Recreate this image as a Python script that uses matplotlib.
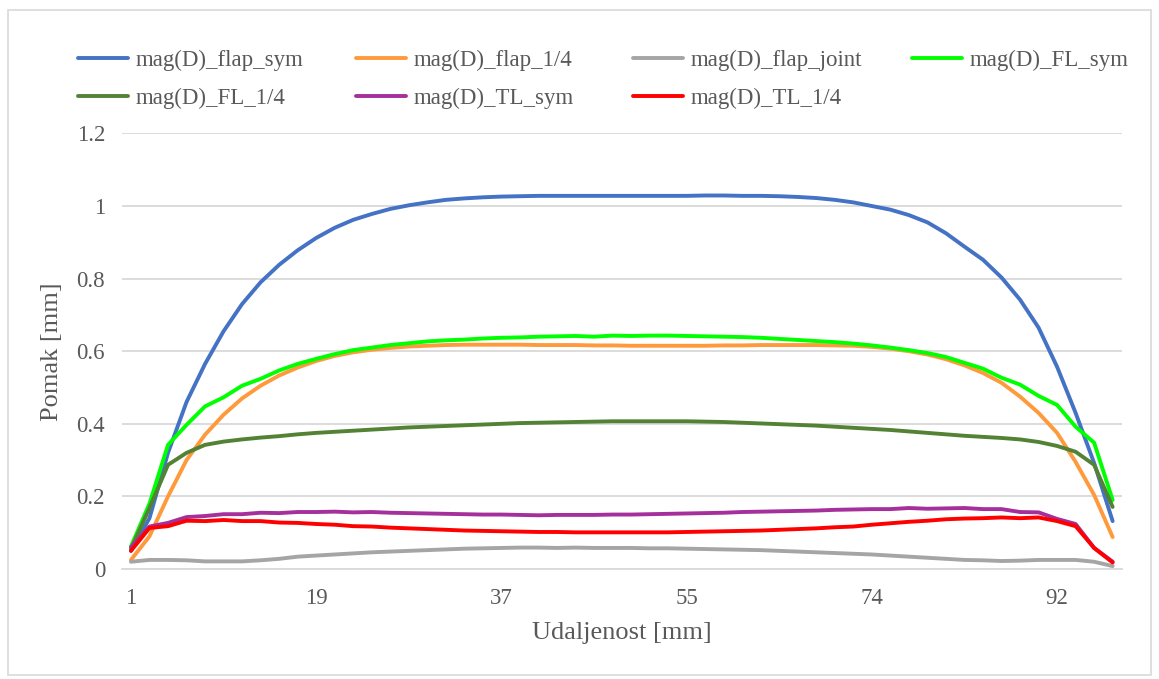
import matplotlib
matplotlib.use("Agg")
import matplotlib.pyplot as plt
from matplotlib.patches import Rectangle

# x os: 54 tocke, oznaka svake 10. tocke
x_oznake = ["1", "19", "37", "55", "74", "92"]
x_oznake_idx = [0, 10, 20, 30, 40, 50]

flap_sym = [0.05, 0.14, 0.32, 0.46, 0.565, 0.655, 0.73, 0.79, 0.838, 0.878,
            0.912, 0.94, 0.962, 0.978, 0.992, 1.002, 1.01, 1.017, 1.021, 1.024,
            1.026, 1.027, 1.028, 1.028, 1.028, 1.028, 1.028, 1.028, 1.028, 1.028,
            1.028, 1.029, 1.029, 1.028, 1.028, 1.027, 1.025, 1.022, 1.017, 1.01,
            1.0, 0.99, 0.975, 0.955, 0.925, 0.888, 0.852, 0.803, 0.742, 0.665,
            0.557, 0.43, 0.292, 0.132]

flap_14 = [0.025, 0.09, 0.2, 0.3, 0.37, 0.425, 0.47, 0.505, 0.533, 0.555,
           0.573, 0.587, 0.597, 0.604, 0.609, 0.613, 0.615, 0.617, 0.618, 0.618,
           0.618, 0.618, 0.617, 0.617, 0.617, 0.616, 0.616, 0.615, 0.615, 0.615,
           0.615, 0.615, 0.616, 0.616, 0.617, 0.617, 0.617, 0.617, 0.616, 0.615,
           0.612, 0.607, 0.6, 0.591, 0.578, 0.561, 0.54, 0.513, 0.475, 0.43,
           0.375, 0.295, 0.204, 0.088]

flap_joint = [0.02, 0.025, 0.025, 0.024, 0.021, 0.021, 0.021, 0.024, 0.028, 0.034,
              0.037, 0.04, 0.043, 0.046, 0.048, 0.05, 0.052, 0.054, 0.056, 0.057,
              0.058, 0.059, 0.059, 0.058, 0.059, 0.058, 0.058, 0.058, 0.057, 0.057,
              0.056, 0.055, 0.054, 0.053, 0.052, 0.05, 0.048, 0.046, 0.044, 0.042,
              0.04, 0.037, 0.034, 0.031, 0.028, 0.025, 0.024, 0.022, 0.023, 0.025,
              0.025, 0.025, 0.02, 0.008]

FL_sym = [0.062, 0.18, 0.342, 0.397, 0.448, 0.473, 0.505, 0.524, 0.547, 0.565,
          0.579, 0.592, 0.603, 0.61, 0.617, 0.622, 0.627, 0.63, 0.632, 0.635,
          0.637, 0.638, 0.64, 0.641, 0.642, 0.64, 0.643, 0.642, 0.643, 0.643,
          0.642, 0.641, 0.64, 0.639, 0.637, 0.634, 0.631, 0.628, 0.625, 0.621,
          0.616, 0.61, 0.603, 0.595, 0.584, 0.568, 0.552, 0.527, 0.508, 0.477,
          0.452, 0.392, 0.348, 0.19]

FL_14 = [0.055, 0.168, 0.287, 0.32, 0.342, 0.351, 0.357, 0.362, 0.366, 0.371,
         0.375, 0.378, 0.381, 0.384, 0.387, 0.39, 0.392, 0.394, 0.396, 0.398,
         0.4, 0.402, 0.403, 0.404, 0.405, 0.406, 0.407, 0.407, 0.407, 0.407,
         0.407, 0.406, 0.405, 0.403, 0.401, 0.399, 0.397, 0.395, 0.392, 0.389,
         0.386, 0.383, 0.379, 0.375, 0.371, 0.367, 0.364, 0.361, 0.357, 0.35,
         0.339, 0.323, 0.287, 0.171]

TL_sym = [0.06, 0.117, 0.127, 0.143, 0.146, 0.151, 0.151, 0.155, 0.154, 0.157,
          0.157, 0.158, 0.156, 0.157, 0.155, 0.154, 0.153, 0.152, 0.151, 0.15,
          0.15, 0.149, 0.148, 0.149, 0.149, 0.149, 0.15, 0.15, 0.151, 0.152,
          0.153, 0.154, 0.155, 0.157, 0.158, 0.159, 0.16, 0.161, 0.163, 0.164,
          0.165, 0.165, 0.168, 0.166, 0.167, 0.168, 0.165, 0.165, 0.157, 0.156,
          0.138, 0.124, 0.058, 0.02]

TL_14 = [0.05, 0.113, 0.118, 0.133, 0.132, 0.135, 0.132, 0.132, 0.128, 0.127,
         0.124, 0.122, 0.118, 0.117, 0.114, 0.112, 0.11, 0.108, 0.106, 0.105,
         0.104, 0.103, 0.102, 0.102, 0.101, 0.101, 0.101, 0.101, 0.101, 0.101,
         0.102, 0.103, 0.104, 0.105, 0.106, 0.108, 0.11, 0.112, 0.115, 0.117,
         0.122, 0.126, 0.13, 0.133, 0.137, 0.139, 0.14, 0.142, 0.14, 0.142,
         0.132, 0.118, 0.058, 0.018]

serije = [
    ("mag(D)_flap_sym", flap_sym, "#4472C4"),
    ("mag(D)_flap_1/4", flap_14, "#FF9A3C"),
    ("mag(D)_flap_joint", flap_joint, "#A5A5A5"),
    ("mag(D)_FL_sym", FL_sym, "#00FF00"),
    ("mag(D)_FL_1/4", FL_14, "#548235"),
    ("mag(D)_TL_sym", TL_sym, "#A5309B"),
    ("mag(D)_TL_1/4", TL_14, "#FF0000"),
]

plt.rcParams['font.family'] = ['Liberation Serif', 'DejaVu Serif']
siva = "#595959"

fig = plt.figure(figsize=(11.59, 6.79), dpi=100)
ax = fig.add_axes([0.105, 0.162, 0.863, 0.6415])

linije = []
for naziv, vrijednosti, boja in serije:
    l, = ax.plot(range(len(vrijednosti)), vrijednosti, color=boja, lw=2.8,
                 label=naziv, solid_joinstyle='round', solid_capstyle='round')
    linije.append(l)

ax.set_xlim(-0.5, len(flap_sym) - 0.5)
ax.set_ylim(0, 1.2)
ax.set_yticks([0, 0.2, 0.4, 0.6, 0.8, 1.0, 1.2])
ax.set_yticklabels(["0", "0.2", "0.4", "0.6", "0.8", "1", "1.2"])
ax.set_xticks(x_oznake_idx)
ax.set_xticklabels(x_oznake)
ax.tick_params(axis='both', length=0, labelsize=16.5, labelcolor=siva)
ax.tick_params(axis='x', pad=14)
ax.tick_params(axis='y', pad=12)
ax.grid(axis='y', color='#D9D9D9', lw=1.3)
ax.set_axisbelow(True)
for s in ['top', 'right', 'left']:
    ax.spines[s].set_visible(False)
ax.spines['bottom'].set_color('#D9D9D9')
ax.spines['bottom'].set_linewidth(1.3)

ax.set_xlabel("Udaljenost [mm]", fontsize=19, color=siva, labelpad=9)
ax.set_ylabel("Pomak [mm]", fontsize=19, color=siva, labelpad=10)

# legenda: redoslijed po redovima kao u Excelu
stupci = [[0, 4], [1, 5], [2, 6], [3]]
x_stupci = [78, 356, 633, 912]
for idx, xs in zip(stupci, x_stupci):
    fig.legend([linije[i] for i in idx], [serije[i][0] for i in idx],
               loc='upper left', bbox_to_anchor=(xs / 1159, 1 - 50 / 679),
               frameon=False, fontsize=16.5, labelcolor=siva,
               handlelength=2.2, handletextpad=0.3, labelspacing=0.72,
               borderpad=0, borderaxespad=0)

fig.add_artist(Rectangle((8 / 1159, 4 / 679), 1143 / 1159, 665 / 679,
                         transform=fig.transFigure, fill=False,
                         edgecolor='#D9D9D9', lw=1.2))

fig.savefig("out.png", dpi=100)
